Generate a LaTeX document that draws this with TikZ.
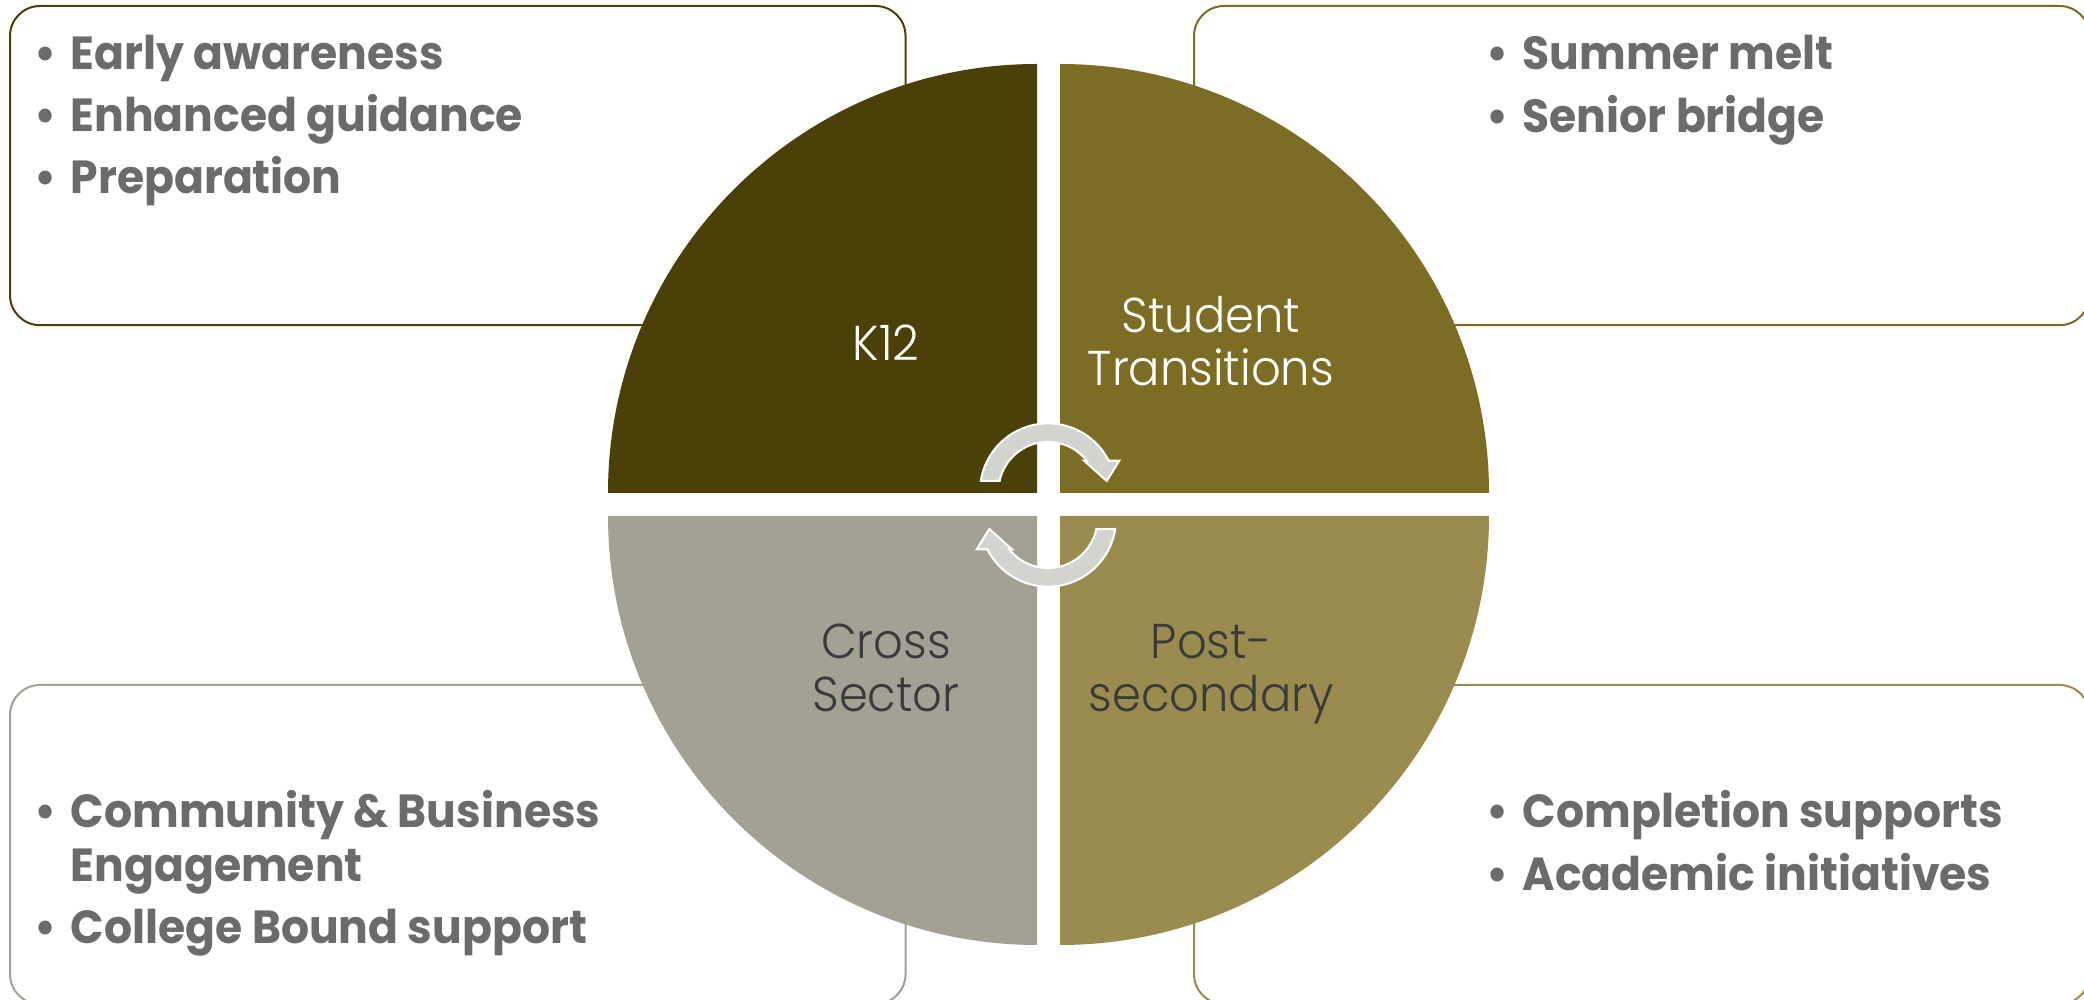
\documentclass[tikz,border=0pt]{standalone}
\usepackage{fontspec}
\setmainfont{Poppins}
\newfontfamily\labfont{Poppins Light}[FakeStretch=0.95]
\definecolor{cK}{HTML}{4A4008}
\definecolor{cS}{HTML}{7D6C23}
\definecolor{cC}{HTML}{A3A094}
\definecolor{cP}{HTML}{9A8B4F}
\definecolor{txtgray}{HTML}{6B6B6B}
\definecolor{darklab}{HTML}{3A3A3A}
\definecolor{arrfill}{HTML}{D3D3D0}
\newcommand\bul{\hbox to 0.14cm{\hss\textbullet\hss}\hskip0.18cm}
\newcommand\indt{\hskip0.32cm}
\tikzset{
  infobox/.style={draw, line width=0.02cm, rounded corners=0.3cm, fill=white,
    minimum width=8.95cm, minimum height=3.19cm, inner sep=0, anchor=north west},
  btext/.style={inner sep=0, anchor=base west, text=txtgray,
    font=\fontsize{13.2pt}{15pt}\selectfont\bfseries\addfontfeature{FakeStretch=0.95}},
  qlabel/.style={inner sep=0, anchor=north, align=center,
    font=\labfont\fontsize{13.9pt}{15.08pt}\selectfont},
  cyclearrow/.style={fill=arrfill, draw=white, line width=0.02cm, line join=miter}
}
\begin{document}
\begin{tikzpicture}[x=0.01cm,y=0.01cm]
\useasboundingbox (0,0) rectangle (2084,1000);
\fill[white] (0,0) rectangle (2084,1000);
\clip (0,0) rectangle (2084,1000);
% boxes
\node[infobox, draw=cK] (tlbox) at (9,995) {};
\node[infobox, draw=cS] (trbox) at (1193,995) {};
\node[infobox, draw=cC] (blbox) at (9,316) {};
\node[infobox, draw=cP] (brbox) at (1193,316) {};
% quadrants
\fill[cK] (1037,507) -- ++(-429,0) arc[start angle=180, end angle=90, radius=429] -- cycle;
\fill[cS] (1060,507) -- ++(0,429) arc[start angle=90, end angle=0, radius=429] -- cycle;
\fill[cC] (1037,484) -- ++(0,-429) arc[start angle=270, end angle=180, radius=429] -- cycle;
\fill[cP] (1060,484) -- ++(429,0) arc[start angle=0, end angle=-90, radius=429] -- cycle;
% cycle arrows
\draw[cyclearrow] ([shift={(1048,508.6)}]171.2:68) arc[start angle=171.2, end angle=26.8, radius=68]
  -- (1119.3,539.3) -- (1106.7,519) -- (1084,539.3)
  -- ([shift={(1048,508.6)}]38.3:49.5) arc[start angle=38.3, end angle=167.8, radius=49.5] -- cycle;
\begin{scope}[rotate around={180:(1048,495)}]
\draw[cyclearrow] ([shift={(1048,508.6)}]171.2:68) arc[start angle=171.2, end angle=26.8, radius=68]
  -- (1119.3,539.3) -- (1106.7,519) -- (1084,539.3)
  -- ([shift={(1048,508.6)}]38.3:49.5) arc[start angle=38.3, end angle=167.8, radius=49.5] -- cycle;
\end{scope}
% quadrant labels
\node[qlabel, text=white] (k12) at (886,675.4) {K12};
\node[qlabel, text=white] (st) at (1211,704) {Student\\Transitions};
\node[qlabel, text=darklab] (cs) at (886,377) {Cross\\Sector};
\node[qlabel, text=darklab] (ps) at (1211,376) {Post-\\secondary};
% bullet texts
\node[btext] (tltext) at (38,930) {\vtop{\baselineskip=0.615cm
  \hbox{\bul Early awareness}\hbox{\bul Enhanced guidance}\hbox{\bul Preparation}}};
\node[btext] (trtext) at (1490,930) {\vtop{\baselineskip=0.62cm
  \hbox{\bul Summer melt}\hbox{\bul Senior bridge}}};
\node[btext] (bltext) at (38,172) {\vtop{\baselineskip=0.53cm
  \hbox{\bul Community \& Business}\hbox{\indt Engagement}\vskip0.09cm\hbox{\bul College Bound support}}};
\node[btext] (brtext) at (1490,172) {\vtop{\baselineskip=0.62cm
  \hbox{\bul Completion supports}\hbox{\bul Academic initiatives}}};
\end{tikzpicture}
\end{document}
